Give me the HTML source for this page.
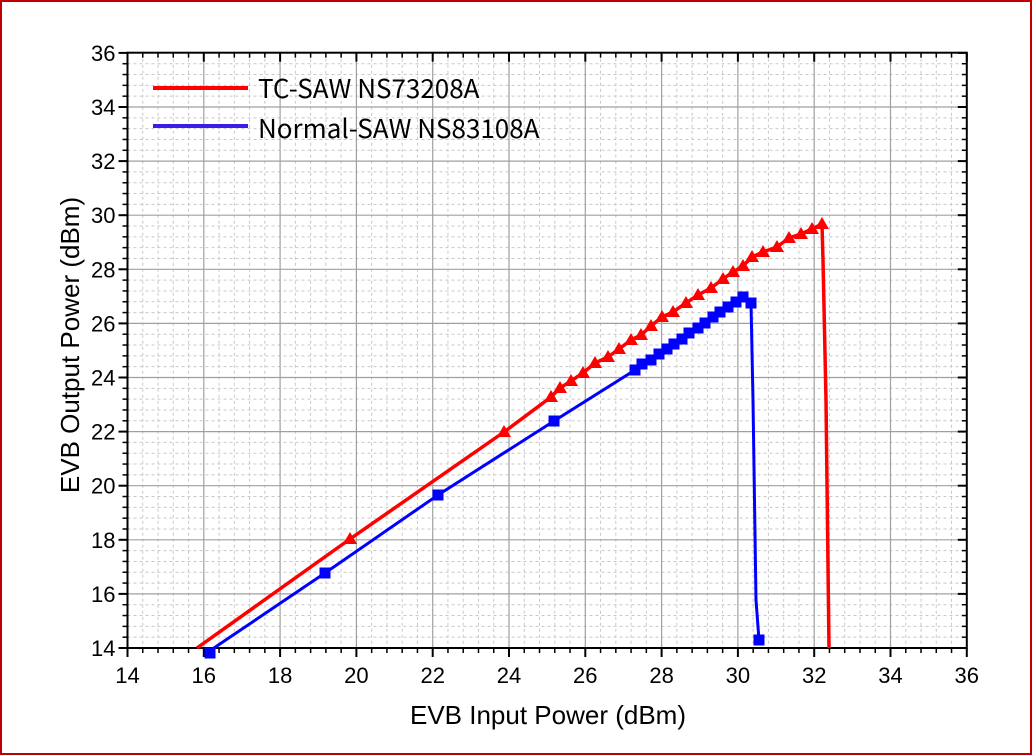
<!DOCTYPE html>
<html><head><meta charset="utf-8"><style>
html,body{margin:0;padding:0;background:#fff}
svg{display:block}
</style></head><body>
<svg id="s" width="1032" height="755" xmlns="http://www.w3.org/2000/svg" font-family="Liberation Sans, Arial, sans-serif">
<rect x="1" y="1" width="1030" height="753" fill="#fff" stroke="#c00000" stroke-width="2"/>
<g id="grid"></g>
<g id="data">
<polyline fill="none" stroke="#ff0000" stroke-width="3.5" points="197,648 350,539 504,432 551,397 560,388 571,381 583,373 595,363 608,357 619,349 631,340 641,335 651,326 662,317 673,312 686,303 698,295 711,288 723,279 733,272 743,266 752,257 763,252 777,247 789,238 801,234 812,229 822,224 823,260 826,400 829,648"/>
<polyline fill="none" stroke="#0000ff" stroke-width="3" points="208,652 325,573 438,495 554,421 635,370 642,364 651,360 659,354 667,349 674,344 682,339 689,333 698,328 705,323 713,317 720,312 728,307 736,302 743,297 751,303 753,400 756,600 759,640"/>
<g id="tri" fill="#ff0000"></g>
<g id="sq" fill="#0000ff"></g>
</g>
<g font-size="26" fill="#000" font-family="Noto Sans CJK SC, DejaVu Sans, sans-serif">
<line x1="153" y1="88" x2="248" y2="88" stroke="#ff0000" stroke-width="4"/>
<text x="258" y="98">TC-SAW NS73208A</text>
<line x1="153" y1="126" x2="248" y2="126" stroke="#3a1ee6" stroke-width="4"/>
<text x="258" y="138">Normal-SAW NS83108A</text>
</g>
<text x="548" y="724" font-size="26" text-anchor="middle">EVB Input Power (dBm)</text>
<text transform="translate(79,345) rotate(-90)" font-size="26" text-anchor="middle">EVB Output Power (dBm)</text>
</svg>
<script>
var X0=127.5,XS=38.15,Y0=648,YS=27.05,L=127.5,R=966.8,T=52.7,B=648;
function px(v){return X0+(v-14)*XS}function py(v){return Y0-(v-14)*YS}
var g='';
for(var i=0;i<=55;i++){var v=14+i*0.4;if(i%5==0)continue;var x=px(v),y=py(v);
g+='<line x1="'+x+'" y1="'+T+'" x2="'+x+'" y2="'+B+'" stroke="#c8c8c8" stroke-dasharray="3,3" stroke-width="1"/>';
g+='<line x1="'+L+'" y1="'+y+'" x2="'+R+'" y2="'+y+'" stroke="#c8c8c8" stroke-dasharray="3,3" stroke-width="1"/>';
g+='<line x1="'+x+'" y1="'+B+'" x2="'+x+'" y2="'+(B+5)+'" stroke="#000" stroke-width="1.5"/>';
g+='<line x1="'+x+'" y1="'+T+'" x2="'+x+'" y2="'+(T+5)+'" stroke="#000" stroke-width="1.5"/>';
g+='<line x1="'+L+'" y1="'+y+'" x2="'+(L-5)+'" y2="'+y+'" stroke="#000" stroke-width="1.5"/>';
g+='<line x1="'+R+'" y1="'+y+'" x2="'+(R-5)+'" y2="'+y+'" stroke="#000" stroke-width="1.5"/>';}
for(var v=14;v<=36;v+=2){var x=px(v),y=py(v);
g+='<line x1="'+x+'" y1="'+T+'" x2="'+x+'" y2="'+B+'" stroke="#a0a0a0" stroke-width="1.2"/>';
g+='<line x1="'+L+'" y1="'+y+'" x2="'+R+'" y2="'+y+'" stroke="#a0a0a0" stroke-width="1.2"/>';
g+='<line x1="'+x+'" y1="'+B+'" x2="'+x+'" y2="'+(B+9)+'" stroke="#000" stroke-width="2"/>';
g+='<line x1="'+x+'" y1="'+T+'" x2="'+x+'" y2="'+(T+9)+'" stroke="#000" stroke-width="2"/>';
g+='<line x1="'+L+'" y1="'+y+'" x2="'+(L-9)+'" y2="'+y+'" stroke="#000" stroke-width="2"/>';
g+='<line x1="'+R+'" y1="'+y+'" x2="'+(R-9)+'" y2="'+y+'" stroke="#000" stroke-width="2"/>';
g+='<text x="'+x+'" y="'+(B+35)+'" font-size="22" text-anchor="middle">'+v+'</text>';
g+='<text x="'+(L-12)+'" y="'+(y+8)+'" font-size="22" text-anchor="end">'+v+'</text>';}
g+='<rect x="'+L+'" y="'+T+'" width="'+(R-L)+'" height="'+(B-T)+'" fill="none" stroke="#000" stroke-width="2"/>';
document.getElementById('grid').innerHTML=g;
var tp=[[350,539],[504,432],[551,397],[560,388],[571,381],[583,373],[595,363],[608,357],[619,349],[631,340],[641,335],[651,326],[662,317],[673,312],[686,303],[698,295],[711,288],[723,279],[733,272],[743,266],[752,257],[763,252],[777,247],[789,238],[801,234],[812,229],[822,224]];
var t='';tp.forEach(function(p){t+='<polygon points="'+p[0]+','+(p[1]-7)+' '+(p[0]-7)+','+(p[1]+5)+' '+(p[0]+7)+','+(p[1]+5)+'"/>';});
document.getElementById('tri').innerHTML=t;
var sp=[[210,653],[325,573],[438,495],[554,421],[635,370],[642,364],[651,360],[659,354],[667,349],[674,344],[682,339],[689,333],[698,328],[705,323],[713,317],[720,312],[728,307],[736,302],[743,297],[751,303],[759,640]];
var s='';sp.forEach(function(p){s+='<rect x="'+(p[0]-5.5)+'" y="'+(p[1]-5.5)+'" width="11" height="11"/>';});
document.getElementById('sq').innerHTML=s;
</script>
</body></html>
